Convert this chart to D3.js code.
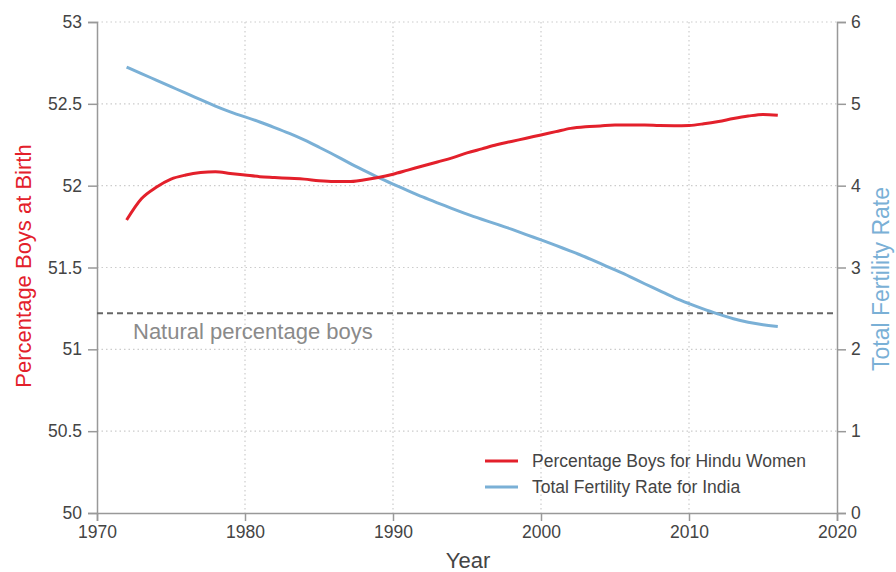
<!DOCTYPE html>
<html><head><meta charset="utf-8">
<script src="https://cdn.jsdelivr.net/npm/d3@7"></script>
<style>
body{margin:0;background:#fff;}
svg{font-family:"Liberation Sans",Arial,sans-serif;}
</style></head>
<body><svg id="c" width="896" height="572"></svg>
<script>
const years = d3.range(1972, 2017);
const boysPct = [51.79,51.92,51.99,52.04,52.065,52.08,52.085,52.075,52.065,52.055,52.05,52.045,52.04,52.03,52.025,52.025,52.035,52.05,52.07,52.095,52.12,52.145,52.17,52.2,52.225,52.25,52.27,52.29,52.31,52.33,52.35,52.36,52.365,52.37,52.37,52.37,52.367,52.366,52.368,52.378,52.392,52.41,52.425,52.435,52.43];
const tfr = [5.45,5.37,5.29,5.21,5.13,5.05,4.97,4.90,4.84,4.78,4.71,4.64,4.56,4.47,4.38,4.28,4.19,4.10,4.02,3.94,3.86,3.79,3.72,3.65,3.59,3.53,3.47,3.40,3.34,3.27,3.20,3.13,3.05,2.97,2.89,2.80,2.72,2.63,2.56,2.49,2.43,2.37,2.33,2.30,2.28];
const naturalPct = 51.22;
const xTicks = [1970,1980,1990,2000,2010,2020];
const leftTicks = [50,50.5,51,51.5,52,52.5,53];
const rightTicks = [0,1,2,3,4,5,6];
const seriesNames = ["Percentage Boys for Hindu Women","Total Fertility Rate for India"];
const colors = {red:"#e3202b", blue:"#7ab0d6", axis:"#999", text:"#444"};

const svg = d3.select("#c");
const L=97, R=837, T=22, B=513;
const x = d3.scaleLinear().domain([1970,2020]).range([L,R]);
const yL = d3.scaleLinear().domain([50,53]).range([B,T]);
const yR = d3.scaleLinear().domain([0,6]).range([B,T]);

// grid
const g = svg.append("g");
g.selectAll(".vg").data(xTicks.slice(1,-1)).join("line")
  .attr("x1",d=>x(d)).attr("x2",d=>x(d)).attr("y1",T).attr("y2",B)
  .attr("stroke","#ccc").attr("stroke-width",1.2).attr("stroke-dasharray","1.5,3");
g.selectAll(".hg").data(leftTicks.slice(1)).join("line")
  .attr("x1",L).attr("x2",R).attr("y1",d=>yL(d)).attr("y2",d=>yL(d))
  .attr("stroke","#ccc").attr("stroke-width",1.2).attr("stroke-dasharray","1.5,3");

// axes
function style(sel){
  sel.select(".domain").attr("stroke",colors.axis).attr("stroke-width",1.5);
  sel.selectAll(".tick line").attr("stroke",colors.axis).attr("stroke-width",1.5);
  sel.selectAll(".tick text").attr("fill",colors.text).attr("font-size",17.5);
}
svg.append("g").attr("transform",`translate(0,${B})`)
  .call(d3.axisBottom(x).tickValues(xTicks).tickFormat(d3.format("d")).tickSizeOuter(0).tickSize(8).tickPadding(5))
  .call(style);
svg.append("g").attr("transform",`translate(${L},0)`)
  .call(d3.axisLeft(yL).tickValues(leftTicks).tickFormat(d=>String(d)).tickSizeOuter(0).tickSize(9).tickPadding(6))
  .call(style);
svg.append("g").attr("transform",`translate(${R},0)`)
  .call(d3.axisRight(yR).tickValues(rightTicks).tickFormat(d3.format("d")).tickSizeOuter(0).tickSize(9).tickPadding(5))
  .call(style);

// natural line
svg.append("line").attr("x1",L).attr("x2",R).attr("y1",yL(naturalPct)).attr("y2",yL(naturalPct))
  .attr("stroke","#666").attr("stroke-width",2).attr("stroke-dasharray","6,4");
svg.append("text").attr("x",133).attr("y",yL(naturalPct)+26).attr("font-size",22).attr("fill","#8a8a8a")
  .text("Natural percentage boys");

// lines
const lineL = d3.line().x((d,i)=>x(years[i])).y(d=>yL(d)).curve(d3.curveMonotoneX);
const lineR = d3.line().x((d,i)=>x(years[i])).y(d=>yR(d)).curve(d3.curveBasis);
svg.append("path").attr("d",lineR(tfr)).attr("fill","none").attr("stroke",colors.blue).attr("stroke-width",3);
svg.append("path").attr("d",lineL(boysPct)).attr("fill","none").attr("stroke",colors.red).attr("stroke-width",3);

// legend
const leg = svg.append("g");
[[colors.red,461],[colors.blue,487]].forEach(([c,y],i)=>{
  leg.append("line").attr("x1",485).attr("x2",518).attr("y1",y).attr("y2",y).attr("stroke",c).attr("stroke-width",3);
  leg.append("text").attr("x",532).attr("y",y+6).attr("font-size",17.5).attr("fill",colors.text).text(seriesNames[i]);
});

// titles
svg.append("text").attr("transform","translate(31,266) rotate(-90)").attr("text-anchor","middle")
  .attr("font-size",22).attr("fill",colors.red).text("Percentage Boys at Birth");
svg.append("text").attr("transform","translate(889,279) rotate(-90)").attr("text-anchor","middle")
  .attr("font-size",23).attr("fill",colors.blue).text("Total Fertility Rate");
svg.append("text").attr("x",468).attr("y",568).attr("text-anchor","middle")
  .attr("font-size",22).attr("fill",colors.text).text("Year");
</script></body></html>
